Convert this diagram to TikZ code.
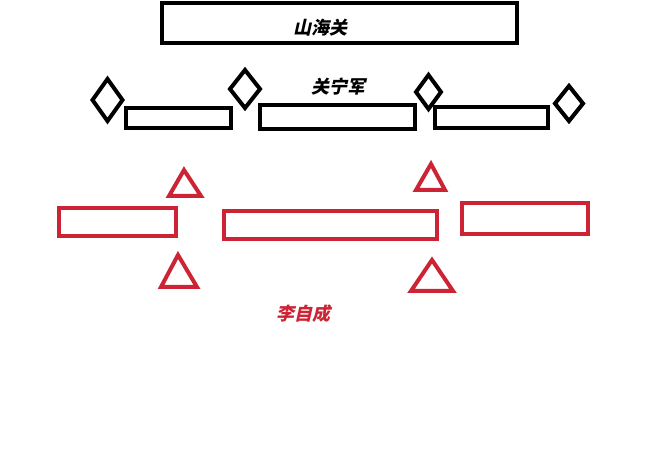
\documentclass[tikz,border=0pt]{standalone}
\usepackage{fontspec}
\newfontfamily\cjk[FakeSlant=0.22]{Noto Sans CJK SC}
\usepackage{tikz}

\definecolor{LiRed}{RGB}{204,36,52}

\begin{document}
\begin{tikzpicture}[x=1pt, y=-1pt]
    \useasboundingbox (0,0) rectangle (659,465);

    % Shanhai Pass
    \draw [line width = 4.5pt] (162,3) rectangle (517,43);
    \node (shanhai) at (320,28) {\cjk\bfseries\fontsize{18}{18}\selectfont 山海关};

    % Guanning army
    \draw [line width = 4pt] (126,108) rectangle (231,128);
    \draw [line width = 4pt] (260,105) rectangle (415,129);
    \draw [line width = 4pt] (435,107) rectangle (548,128);

    \draw [line width = 4pt] (107.5,79) -- (122.5,100) -- (107.5,121) -- (92.5,100) -- cycle;
    \draw [line width = 4pt] (245,70) -- (260,89) -- (245,108) -- (230,89) -- cycle;
    \draw [line width = 4pt] (428.5,75) -- (441,92) -- (428.5,109) -- (416,92) -- cycle;
    \draw [line width = 4pt] (569,86) -- (583,103.5) -- (569,121) -- (555,103.5) -- cycle;

    \node (guanning) at (338,87) {\cjk\bfseries\fontsize{18}{18}\selectfont 关宁军};

    % Li Zicheng
    \draw [color=LiRed, line width = 4pt] (59,208) rectangle (176,236);
    \draw [color=LiRed, line width = 4pt] (224,211) rectangle (437,239);
    \draw [color=LiRed, line width = 4pt] (462,203) rectangle (588,234);

    \draw [color=LiRed, line width = 4pt] (184,170) -- (201,196) -- (169,196) -- cycle;
    \draw [color=LiRed, line width = 4pt] (178,255) -- (197,287) -- (161,287) -- cycle;
    \draw [color=LiRed, line width = 4pt] (431,164) -- (445,190) -- (416,190) -- cycle;
    \draw [color=LiRed, line width = 4pt] (432,260) -- (453,291) -- (411,291) -- cycle;

    \node [text=LiRed] (lizicheng) at (303,314) {\cjk\bfseries\fontsize{18}{18}\selectfont 李自成};
  \end{tikzpicture}
\end{document}
